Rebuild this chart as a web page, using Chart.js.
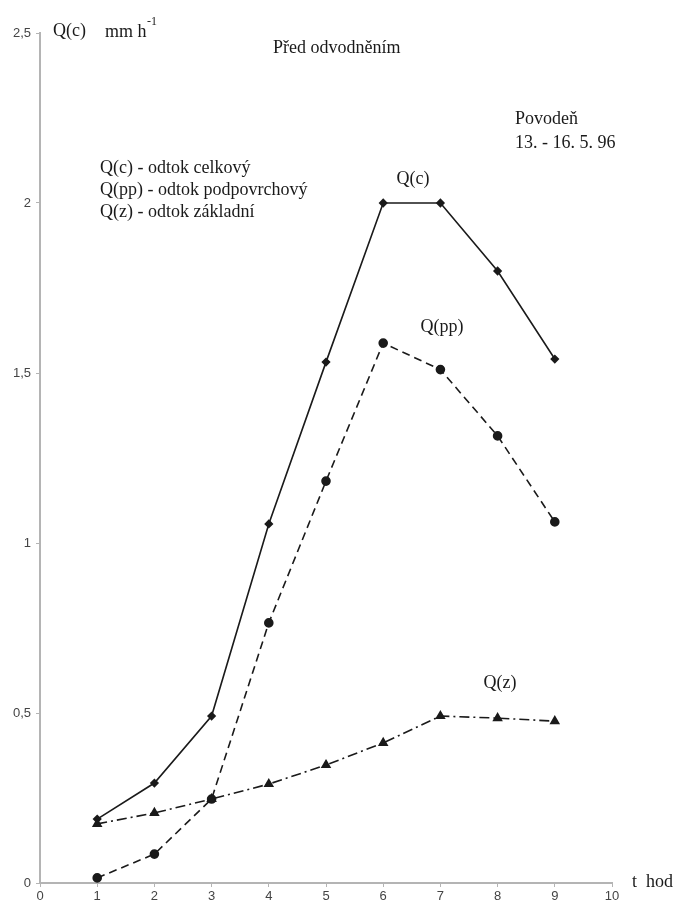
<!DOCTYPE html>
<html>
<head>
<meta charset="utf-8">
<script src="https://cdn.jsdelivr.net/npm/chart.js@4.4.0/dist/chart.umd.min.js"></script>
<style>
  html, body { margin: 0; padding: 0; background: #fff; }
  #wrap { width: 675px; height: 906px; position: relative; }
</style>
</head>
<body>
<div id="wrap"><canvas id="chart"></canvas></div>
<script>
// hours and runoff values (mm/h)
const hours = [1, 2, 3, 4, 5, 6, 7, 8, 9];
const qCelkovy = [0.188, 0.294, 0.491, 1.056, 1.532, 2.0, 2.0, 1.80, 1.541];
const qPodpovrchovy = [0.015, 0.085, 0.247, 0.765, 1.182, 1.588, 1.51, 1.315, 1.062];
const qZakladni = [0.174, 0.206, 0.247, 0.291, 0.347, 0.412, 0.491, 0.485, 0.476];
const yTicks = [0, 0.5, 1, 1.5, 2, 2.5];

const ink = '#1a1a1a';
const axisGrey = '#b4b4b4';
const serif = "'Liberation Serif', 'Times New Roman', serif";
const sans = "'Liberation Sans', Arial, sans-serif";

const toPoints = vals => hours.map((h, i) => ({ x: h, y: vals[i] }));

// text labels placed next to the curves (data coordinates)
const curveLabels = [
    { text: 'Q(c)', x: 6.52, y: 2.07 },
    { text: 'Q(pp)', x: 7.03, y: 1.635 },
    { text: 'Q(z)', x: 8.04, y: 0.588 }
];

const textPlugin = {
    id: 'texts',
    afterDatasetsDraw(chart) {
        const ctx = chart.ctx;
        const xs = chart.scales.x, ys = chart.scales.y;
        ctx.save();
        ctx.fillStyle = ink;
        ctx.font = '18px ' + serif;
        ctx.textBaseline = 'middle';

        ctx.textAlign = 'center';
        curveLabels.forEach(l => {
            ctx.fillText(l.text, xs.getPixelForValue(l.x), ys.getPixelForValue(l.y));
        });

        ctx.textAlign = 'left';
        // unit label on top of the y axis
        ctx.fillText('Q(c)', 53, 31);
        ctx.fillText('mm h', 105, 32);
        ctx.font = '12px ' + serif;
        ctx.fillText('-1', 147, 22);
        ctx.font = '18px ' + serif;

        ctx.fillText('Před odvodněním', 273, 48);
        ctx.fillText('Povodeň', 515, 119);
        ctx.fillText('13. - 16. 5. 96', 515, 143);

        ctx.fillText('Q(c) - odtok celkový', 100, 168);
        ctx.fillText('Q(pp) - odtok podpovrchový', 100, 190);
        ctx.fillText('Q(z) - odtok základní', 100, 212);

        ctx.fillText('t  hod', 632, 882);
        ctx.restore();
    }
};

const ctx = document.getElementById('chart').getContext('2d');
new Chart(ctx, {
    type: 'line',
    data: {
        datasets: [
            {
                label: 'Q(c)',
                data: toPoints(qCelkovy),
                borderColor: ink,
                borderWidth: 1.6,
                pointStyle: 'rectRot',
                pointRadius: 3.5,
                pointBackgroundColor: ink,
                pointBorderColor: ink,
                tension: 0
            },
            {
                label: 'Q(pp)',
                data: toPoints(qPodpovrchovy),
                borderColor: ink,
                borderWidth: 1.6,
                borderDash: [8, 5],
                pointStyle: 'circle',
                pointRadius: 4,
                pointBackgroundColor: ink,
                pointBorderColor: ink,
                tension: 0
            },
            {
                label: 'Q(z)',
                data: toPoints(qZakladni),
                borderColor: ink,
                borderWidth: 1.6,
                borderDash: [10, 4, 2, 4],
                pointStyle: 'triangle',
                pointRadius: 4.5,
                pointBackgroundColor: ink,
                pointBorderColor: ink,
                tension: 0
            }
        ]
    },
    options: {
        responsive: true,
        maintainAspectRatio: false,
        animation: false,
        layout: { padding: { top: 33, right: 63, left: 0, bottom: 0 } },
        plugins: {
            legend: { display: false },
            tooltip: { enabled: false }
        },
        scales: {
            x: {
                type: 'linear',
                min: 0,
                max: 10,
                afterFit: s => { s.height = 23; },
                border: { color: axisGrey, width: 2 },
                grid: { drawOnChartArea: false, drawTicks: true, tickLength: 4, color: axisGrey },
                ticks: {
                    stepSize: 1,
                    padding: 2,
                    color: '#444',
                    font: { family: sans, size: 13 }
                }
            },
            y: {
                min: 0,
                max: 2.5,
                afterFit: s => { s.width = 40; },
                afterBuildTicks: s => { s.ticks = yTicks.map(v => ({ value: v })); },
                border: { color: axisGrey, width: 2 },
                grid: { drawOnChartArea: false, drawTicks: true, tickLength: 4, color: axisGrey },
                ticks: {
                    padding: 5,
                    color: '#444',
                    font: { family: sans, size: 13 },
                    callback: v => String(v).replace('.', ',')
                }
            }
        }
    },
    plugins: [textPlugin]
});
</script>
</body>
</html>
